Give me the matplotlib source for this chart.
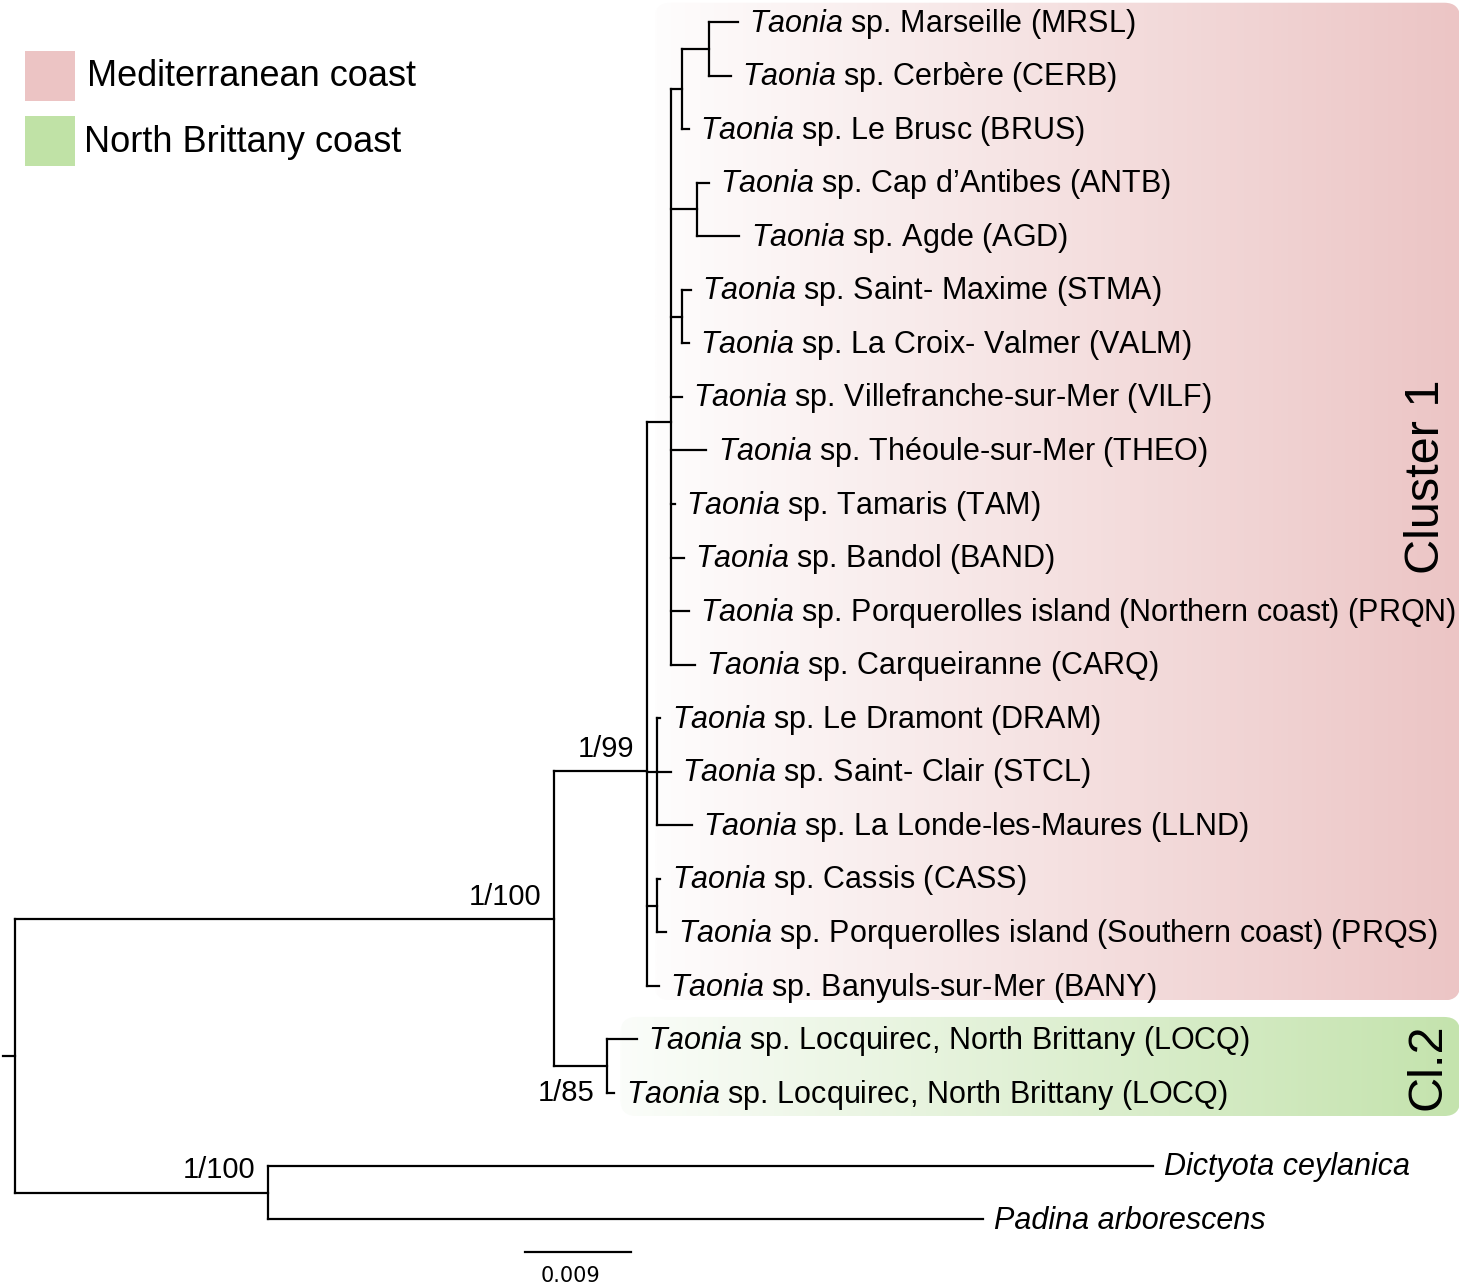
import matplotlib
matplotlib.use('Agg')
import matplotlib.pyplot as plt
import numpy as np
from matplotlib.collections import LineCollection
from matplotlib.patches import FancyBboxPatch, Rectangle
from matplotlib.transforms import IdentityTransform

plt.rcParams['font.family'] = ['Liberation Sans', 'DejaVu Sans']
plt.rcParams['mathtext.fontset'] = 'custom'
plt.rcParams['mathtext.rm'] = 'Liberation Sans'
plt.rcParams['mathtext.it'] = 'Liberation Sans:italic'

# tree with branch lengths (substitutions/site), supports as node names
newick = ('((((((MRSL:0.0025,CERB:0.0019):0.0023,BRUS:0.0006):0.0009,'
          '(ANTB:0.0010,AGD:0.0036):0.0022,(STMA:0.0008,VALM:0.0006):0.0009,'
          'VILF:0.0009,THEO:0.0030,TAM:0.0003,BAND:0.0011,PRQN:0.0015,'
          'CARQ:0.0020):0.0020,(DRAM:0.0003,STCL:0.0012,LLND:0.0030):0.0008,'
          '(CASS:0.0003,PRQS:0.0008):0.0008,BANY:0.0010)1/99:0.0079,'
          '(LOCQ1:0.0025,LOCQ2:0.0006)1/85:0.0045)1/100:0.0458,'
          '(DICT:0.0751,PADI:0.0607)1/100:0.0215):0.0010;')

taonia_sites = {
    'MRSL': 'Marseille (MRSL)',
    'CERB': 'Cerbère (CERB)',
    'BRUS': 'Le Brusc (BRUS)',
    'ANTB': 'Cap d\u2019Antibes (ANTB)',
    'AGD': 'Agde (AGD)',
    'STMA': 'Saint- Maxime (STMA)',
    'VALM': 'La Croix- Valmer (VALM)',
    'VILF': 'Villefranche-sur-Mer (VILF)',
    'THEO': 'Théoule-sur-Mer (THEO)',
    'TAM': 'Tamaris (TAM)',
    'BAND': 'Bandol (BAND)',
    'PRQN': 'Porquerolles island (Northern coast) (PRQN)',
    'CARQ': 'Carqueiranne (CARQ)',
    'DRAM': 'Le Dramont (DRAM)',
    'STCL': 'Saint- Clair (STCL)',
    'LLND': 'La Londe-les-Maures (LLND)',
    'CASS': 'Cassis (CASS)',
    'PRQS': 'Porquerolles island (Southern coast) (PRQS)',
    'BANY': 'Banyuls-sur-Mer (BANY)',
    'LOCQ1': 'Locquirec, North Brittany (LOCQ)',
    'LOCQ2': 'Locquirec, North Brittany (LOCQ)',
}
outgroup_names = {'DICT': 'Dictyota ceylanica', 'PADI': 'Padina arborescens'}

cluster_names = ['Cluster 1', 'Cl.2']
cluster_tips = [('MRSL', 'BANY'), ('LOCQ1', 'LOCQ2')]
cluster_colors = [('#fefdfd', '#ecc5c5'), ('#fbfdfa', '#c4e3ad')]

legend_labels = ['Mediterranean coast', 'North Brittany coast']
legend_colors = ['#ecc4c4', '#c0e2a6']

scale_length = 0.009
support_below = {'1/85'}

W, H = 1459, 1283
PX_PER_UNIT = 106 / 0.009
ROW = 53.55


def parse_newick(s):
    pos = 0

    def node():
        nonlocal pos
        children = []
        if s[pos] == '(':
            pos += 1
            children.append(node())
            while s[pos] == ',':
                pos += 1
                children.append(node())
            pos += 1
        start = pos
        while s[pos] not in ',();':
            pos += 1
        name, _, bl = s[start:pos].partition(':')
        return {'name': name, 'bl': float(bl or 0), 'children': children}

    return node()


def layout(tree):
    tips = []

    def walk(n, x):
        n['x'] = x + n['bl']
        if not n['children']:
            i = len(tips)
            n['y'] = i + (0.36 if n['name'] in outgroup_names else 0)
            tips.append(n)
        else:
            for c in n['children']:
                walk(c, n['x'])
            n['y'] = np.mean([c['y'] for c in n['children']])

    walk(tree, -tree['bl'])
    return tips


def main():
    tree = parse_newick(newick)
    tips = layout(tree)
    tip_y = {t['name']: t['y'] for t in tips}

    fig = plt.figure(figsize=(W / 100, H / 100), dpi=100)
    ax = fig.add_axes([0, 0, 1, 1])
    ax.axis('off')
    x_left = -15 / PX_PER_UNIT
    x_right = x_left + W / PX_PER_UNIT
    ax.set_xlim(x_left, x_right)
    ax.set_ylim((H - 22) / ROW, -22 / ROW)

    # cluster backgrounds with horizontal gradient
    pads = [(0.36, 0.27), (0.42, 0.43)]
    starts = [0.0543, 0.0514]
    for (a, b), (c0, c1), (p0, p1), xs in zip(cluster_tips, cluster_colors, pads, starts):
        y0, y1 = tip_y[a] - p0, tip_y[b] + p1
        (dx0, dy0), (dx1, dy1) = ax.transData.transform([(xs, y1), (x_right + 0.0001, y0)])
        box = FancyBboxPatch((dx0, dy0), dx1 - dx0, dy1 - dy0,
                             boxstyle='round,pad=0,rounding_size=16',
                             transform=IdentityTransform(), fc='none', ec='none')
        ax.add_patch(box)
        ca = np.array(matplotlib.colors.to_rgb(c0))
        cb = np.array(matplotlib.colors.to_rgb(c1))
        t = np.linspace(0, 1, 256)[:, None]
        grad = (ca + (cb - ca) * t)[None, :, :].repeat(2, axis=0)
        im = ax.imshow(grad, extent=(xs, x_right + 0.0001, y1, y0), aspect='auto',
                       interpolation='bilinear', zorder=0)
        im.set_clip_path(box)
    ax.set_xlim(x_left, x_right)
    ax.set_ylim((H - 22) / ROW, -22 / ROW)

    # branches
    segs = []

    def collect(n):
        if n['children']:
            ys = [c['y'] for c in n['children']]
            segs.append([(n['x'], min(ys)), (n['x'], max(ys))])
            for c in n['children']:
                segs.append([(n['x'], c['y']), (c['x'], c['y'])])
                collect(c)

    collect(tree)
    segs.append([(tree['x'] - tree['bl'], tree['y']), (tree['x'], tree['y'])])
    ax.add_collection(LineCollection(segs, colors='black', linewidths=1.6,
                                     capstyle='projecting', zorder=2))

    # tip labels
    for t in tips:
        code = t['name']
        if code in outgroup_names:
            ax.text(t['x'] + 0.00095, t['y'] + 0.03, outgroup_names[code], fontsize=22,
                    style='italic', va='center', ha='left', zorder=3)
        else:
            ax.text(t['x'] + 0.00095, t['y'] + 0.03,
                    r'$\mathit{Taonia}$ sp. ' + taonia_sites[code],
                    fontsize=22, va='center', ha='left', zorder=3)

    # supports
    def supports(n):
        if n['children']:
            if n['name']:
                dy = -19 if n['name'] in support_below else 16
                ax.annotate(n['name'], (n['x'], n['y']), xytext=(-9.5, dy),
                            textcoords='offset points', ha='right', va='center',
                            fontsize=21, zorder=3)
            for c in n['children']:
                supports(c)

    supports(tree)

    # cluster names
    ax.text(0.978, 8.5, cluster_names[0], rotation=90, fontsize=35, ha='center',
            va='center', transform=ax.get_yaxis_transform(), zorder=3)
    ax.text(0.979, np.mean([tip_y[k] for k in cluster_tips[1]]), cluster_names[1],
            rotation=90, fontsize=35, ha='center', va='center',
            transform=ax.get_yaxis_transform(), zorder=3)

    # scale bar
    sx = 0.0433
    sy = tips[-1]['y'] + 0.6
    ax.plot([sx, sx + scale_length], [sy, sy], color='black', lw=1.6)
    ax.text(sx + scale_length / 2 - 0.0006, sy + 0.45, f'{scale_length:.3f}', fontsize=15,
            family='DejaVu Sans', ha='center', va='center')

    # legend
    for i, (lab, col) in enumerate(zip(legend_labels, legend_colors)):
        top = 51 + i * 65
        fig.patches.append(Rectangle((25 / W, 1 - (top + 50) / H), 50 / W, 50 / H,
                                     transform=fig.transFigure, fc=col, ec='none'))
        fig.text((87 - 3 * i) / W, 1 - (top + 26) / H, lab, fontsize=26,
                 ha='left', va='center')

    fig.savefig('out.png', dpi=100)


main()
